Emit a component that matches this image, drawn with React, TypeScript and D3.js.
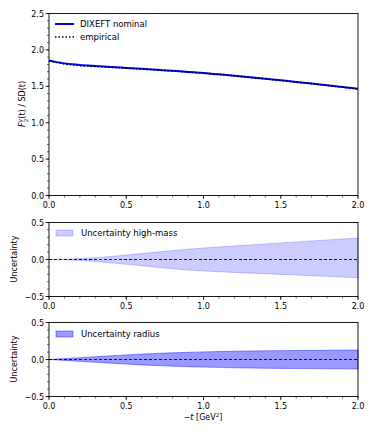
import React from "react";
import * as d3 from "d3";

const tGrid = [0, 0.05, 0.1, 0.15, 0.2, 0.3, 0.4, 0.5, 0.6, 0.7, 0.8, 0.9, 1.0, 1.1, 1.2, 1.3, 1.4, 1.5, 1.6, 1.7, 1.8, 1.9, 2.0];
const nominal = [1.855, 1.832, 1.815, 1.802, 1.792, 1.778, 1.766, 1.753, 1.74, 1.726, 1.712, 1.697, 1.682, 1.664, 1.645, 1.625, 1.604, 1.582, 1.56, 1.537, 1.513, 1.489, 1.465];
const empirical = [1.85, 1.826, 1.807, 1.794, 1.784, 1.771, 1.761, 1.75, 1.738, 1.724, 1.71, 1.696, 1.681, 1.663, 1.644, 1.624, 1.603, 1.581, 1.559, 1.536, 1.512, 1.488, 1.464];

const tBand = [0, 0.1, 0.2, 0.3, 0.4, 0.5, 0.6, 0.7, 0.8, 0.9, 1.0, 1.2, 1.4, 1.6, 1.8, 2.0];
const highMassUp = [0, 0.003, 0.012, 0.025, 0.042, 0.06, 0.08, 0.1, 0.12, 0.14, 0.155, 0.183, 0.21, 0.238, 0.264, 0.29];
const highMassLo = [0, -0.003, -0.012, -0.026, -0.045, -0.065, -0.085, -0.105, -0.125, -0.143, -0.155, -0.175, -0.192, -0.21, -0.228, -0.248];
const radiusUp = [0, 0.012, 0.025, 0.038, 0.05, 0.062, 0.073, 0.082, 0.09, 0.097, 0.103, 0.112, 0.118, 0.122, 0.125, 0.128];
const radiusLo = [0, -0.012, -0.025, -0.038, -0.05, -0.062, -0.073, -0.082, -0.09, -0.097, -0.103, -0.112, -0.118, -0.122, -0.125, -0.128];

const xTicks = [0, 0.5, 1.0, 1.5, 2.0];
const topYTicks = [0, 0.5, 1.0, 1.5, 2.0, 2.5];
const uncYTicks = [-0.5, 0, 0.5];

const FONT = "DejaVu Sans";
const FS = 8;
const LFS = 8.5;

const L = 49, R = 358;

function Axes({ y0, y1, yDomain, yTicks, children }: any) {
  const x = d3.scaleLinear().domain([0, 2]).range([L, R]);
  const y = d3.scaleLinear().domain(yDomain).range([y1, y0]);
  const xMinor = d3.range(0, 2.0001, 0.1);
  const yMinor = d3.range(yDomain[0], yDomain[1] + 0.0001, 0.1);
  return (
    <g>
      {children(x, y)}
      <rect x={L} y={y0} width={R - L} height={y1 - y0} fill="none" stroke="#000" strokeWidth={0.9} />
      {xMinor.map((v, i) => (
        <line key={"xm" + i} x1={x(v)} x2={x(v)} y1={y1} y2={y1 + 2} stroke="#000" strokeWidth={0.6} />
      ))}
      {xTicks.map((v, i) => (
        <g key={"x" + i}>
          <line x1={x(v)} x2={x(v)} y1={y1} y2={y1 + 3.5} stroke="#000" strokeWidth={0.8} />
          <text x={x(v)} y={y1 + 12} fontSize={FS} fontFamily={FONT} textAnchor="middle" fill="#000">
            {v.toFixed(1)}
          </text>
        </g>
      ))}
      {yMinor.map((v, i) => (
        <line key={"ym" + i} x1={L - 2} x2={L} y1={y(v)} y2={y(v)} stroke="#000" strokeWidth={0.6} />
      ))}
      {yTicks.map((v: number, i: number) => (
        <g key={"y" + i}>
          <line x1={L - 3.5} x2={L} y1={y(v)} y2={y(v)} stroke="#000" strokeWidth={0.8} />
          <text x={L - 5} y={y(v) + 3} fontSize={FS} fontFamily={FONT} textAnchor="end" fill="#000">
            {v < 0 ? "\u2212" + Math.abs(v).toFixed(1) : v.toFixed(1)}
          </text>
        </g>
      ))}
    </g>
  );
}

export default function App() {
  const lineGen = (x: any, y: any, vals: number[]) =>
    d3.line<number>().x((_, i) => x(tGrid[i])).y((d) => y(d)).curve(d3.curveMonotoneX)(vals) as string;
  const areaGen = (x: any, y: any, up: number[], lo: number[]) =>
    d3.area<number>().x((_, i) => x(tBand[i])).y0((_, i) => y(lo[i])).y1((d) => y(d)).curve(d3.curveMonotoneX)(up) as string;

  return (
    <svg width={374} height={436} style={{ position: "absolute", left: 0, top: 0 }}>
      <rect width={374} height={436} fill="#fff" />
      <Axes y0={13.5} y1={195.5} yDomain={[0, 2.5]} yTicks={topYTicks}>
        {(x: any, y: any) => (
          <g>
            <path d={lineGen(x, y, nominal)} fill="none" stroke="#0000ff" strokeWidth={2} />
            <path d={lineGen(x, y, empirical)} fill="none" stroke="#000" strokeWidth={1.5} strokeDasharray="1.5,2" />
          </g>
        )}
      </Axes>
      <Axes y0={222.5} y1={296.5} yDomain={[-0.5, 0.5]} yTicks={uncYTicks}>
        {(x: any, y: any) => (
          <g>
            <path d={areaGen(x, y, highMassUp, highMassLo)} fill="#0000ff" fillOpacity={0.2} stroke="#0000ff" strokeOpacity={0.2} strokeWidth={1} />
            <line x1={L} x2={R} y1={y(0)} y2={y(0)} stroke="#000" strokeWidth={0.9} strokeDasharray="3,2" />
          </g>
        )}
      </Axes>
      <Axes y0={322.5} y1={396.5} yDomain={[-0.5, 0.5]} yTicks={uncYTicks}>
        {(x: any, y: any) => (
          <g>
            <path d={areaGen(x, y, radiusUp, radiusLo)} fill="#0000ff" fillOpacity={0.4} stroke="#0000ff" strokeOpacity={0.4} strokeWidth={1} />
            <line x1={L} x2={R} y1={y(0)} y2={y(0)} stroke="#000" strokeWidth={0.9} strokeDasharray="3,2" />
          </g>
        )}
      </Axes>

      {/* legends */}
      <line x1={55} x2={74} y1={24} y2={24} stroke="#0000ff" strokeWidth={2} />
      <text x={80} y={27} fontSize={LFS} fontFamily={FONT}>DIXEFT nominal</text>
      <line x1={55} x2={74} y1={37} y2={37} stroke="#000" strokeWidth={1.5} strokeDasharray="1.5,2" />
      <text x={80} y={40} fontSize={LFS} fontFamily={FONT}>empirical</text>

      <rect x={56} y={230} width={17} height={6} fill="#0000ff" fillOpacity={0.2} stroke="#0000ff" strokeOpacity={0.2} strokeWidth={1} />
      <text x={81} y={236} fontSize={LFS} fontFamily={FONT}>Uncertainty high-mass</text>

      <rect x={56} y={331} width={17} height={6} fill="#0000ff" fillOpacity={0.4} stroke="#0000ff" strokeOpacity={0.4} strokeWidth={1} />
      <text x={81} y={337} fontSize={LFS} fontFamily={FONT}>Uncertainty radius</text>

      {/* y labels */}
      <text transform="translate(25,104) rotate(-90)" fontSize={FS} fontFamily={FONT} textAnchor="middle">
        <tspan fontStyle="italic">F</tspan>
        <tspan fontSize={5.5} dy={-3.5} fontStyle="italic">γ</tspan>
        <tspan fontSize={5.5} dx={-3} dy={6}>2</tspan>
        <tspan dy={-2.5}>(t) / SD(t)</tspan>
      </text>
      <text transform="translate(17,259) rotate(-90)" fontSize={FS} fontFamily={FONT} textAnchor="middle">Uncertainty</text>
      <text transform="translate(17,359) rotate(-90)" fontSize={FS} fontFamily={FONT} textAnchor="middle">Uncertainty</text>

      {/* x label */}
      <text x={203} y={420} fontSize={FS} fontFamily={FONT} textAnchor="middle">
        {"\u2212"}
        <tspan fontStyle="italic">t</tspan>
        {" [GeV"}
        <tspan fontSize={5.5} dy={-3}>2</tspan>
        <tspan dy={3}>]</tspan>
      </text>
    </svg>
  );
}
